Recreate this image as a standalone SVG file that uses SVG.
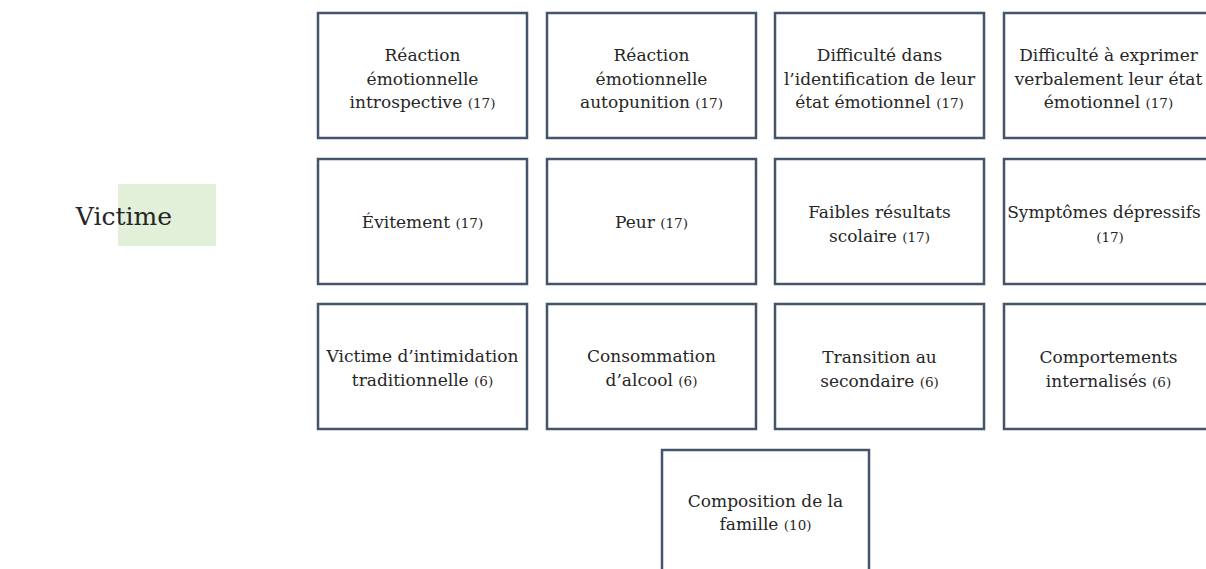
<svg xmlns="http://www.w3.org/2000/svg" width="1206" height="569" viewBox="0 0 1206 569">
  <style>
    .box { fill: #ffffff; stroke: #44546a; stroke-width: 2.5; }
    .lbl { font-family: "DejaVu Serif", "Liberation Serif", serif; font-size: 17px; fill: #262626; text-anchor: middle; }
    .n { font-size: 13.5px; }
    .head { font-family: "DejaVu Serif", "Liberation Serif", serif; font-size: 25px; fill: #262626; text-anchor: end; }
  </style>
  <rect width="1206" height="569" fill="#ffffff"/>

  <g id="victime">
    <rect x="118" y="184" width="98" height="62" fill="#e2efd9"/>
    <text class="head" x="172" y="225">Victime</text>
  </g>

  <!-- row 1 -->
  <g id="n-introspective">
    <rect class="box" x="318" y="13" width="209" height="125"/>
    <text class="lbl"><tspan x="422.5" y="61">Réaction</tspan><tspan x="422.5" y="84.5">émotionnelle</tspan><tspan x="422.5" y="108">introspective <tspan class="n">(17)</tspan></tspan></text>
  </g>
  <g id="n-autopunition">
    <rect class="box" x="547" y="13" width="209" height="125"/>
    <text class="lbl"><tspan x="651.5" y="61">Réaction</tspan><tspan x="651.5" y="84.5">émotionnelle</tspan><tspan x="651.5" y="108">autopunition <tspan class="n">(17)</tspan></tspan></text>
  </g>
  <g id="n-identification">
    <rect class="box" x="775" y="13" width="209" height="125"/>
    <text class="lbl"><tspan x="879.5" y="61">Difficulté dans</tspan><tspan x="879.5" y="84.5">l’identification de leur</tspan><tspan x="879.5" y="108">état émotionnel <tspan class="n">(17)</tspan></tspan></text>
  </g>
  <g id="n-exprimer">
    <rect class="box" x="1004" y="13" width="209" height="125"/>
    <text class="lbl"><tspan x="1108.5" y="61">Difficulté à exprimer</tspan><tspan x="1108.5" y="84.5">verbalement leur état</tspan><tspan x="1108.5" y="108">émotionnel <tspan class="n">(17)</tspan></tspan></text>
  </g>

  <!-- row 2 -->
  <g id="n-evitement">
    <rect class="box" x="318" y="159" width="209" height="125"/>
    <text class="lbl" x="422.5" y="228">Évitement <tspan class="n">(17)</tspan></text>
  </g>
  <g id="n-peur">
    <rect class="box" x="547" y="159" width="209" height="125"/>
    <text class="lbl" x="651.5" y="228">Peur <tspan class="n">(17)</tspan></text>
  </g>
  <g id="n-resultats">
    <rect class="box" x="775" y="159" width="209" height="125"/>
    <text class="lbl"><tspan x="879.5" y="218">Faibles résultats</tspan><tspan x="879.5" y="242">scolaire <tspan class="n">(17)</tspan></tspan></text>
  </g>
  <g id="n-depressifs">
    <rect class="box" x="1004" y="159" width="209" height="125"/>
    <text class="lbl"><tspan x="1104" y="218">Symptômes dépressifs</tspan><tspan class="n" x="1110" y="242">(17)</tspan></text>
  </g>

  <!-- row 3 -->
  <g id="n-intimidation">
    <rect class="box" x="318" y="304" width="209" height="125"/>
    <text class="lbl"><tspan x="422.5" y="362">Victime d’intimidation</tspan><tspan x="422.5" y="386">traditionnelle <tspan class="n">(6)</tspan></tspan></text>
  </g>
  <g id="n-alcool">
    <rect class="box" x="547" y="304" width="209" height="125"/>
    <text class="lbl"><tspan x="651.5" y="362">Consommation</tspan><tspan x="651.5" y="386">d’alcool <tspan class="n">(6)</tspan></tspan></text>
  </g>
  <g id="n-transition">
    <rect class="box" x="775" y="304" width="209" height="125"/>
    <text class="lbl"><tspan x="879.5" y="363">Transition au</tspan><tspan x="879.5" y="387">secondaire <tspan class="n">(6)</tspan></tspan></text>
  </g>
  <g id="n-internalises">
    <rect class="box" x="1004" y="304" width="209" height="125"/>
    <text class="lbl"><tspan x="1108.5" y="363">Comportements</tspan><tspan x="1108.5" y="387">internalisés <tspan class="n">(6)</tspan></tspan></text>
  </g>

  <!-- row 4 -->
  <g id="n-famille">
    <rect class="box" x="662" y="450" width="207" height="135"/>
    <text class="lbl"><tspan x="765.5" y="507">Composition de la</tspan><tspan x="765.5" y="530">famille <tspan class="n">(10)</tspan></tspan></text>
  </g>

  <g id="connectors"/>
</svg>
